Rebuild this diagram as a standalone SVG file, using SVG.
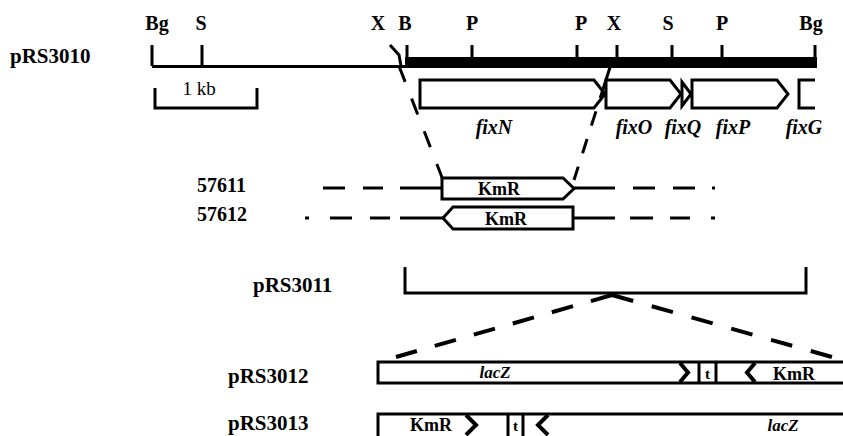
<svg xmlns="http://www.w3.org/2000/svg" width="843" height="436" viewBox="0 0 843 436">
<style>
.lbl{font-family:"Liberation Serif","Times New Roman",serif;font-weight:bold;font-size:21px;fill:#000}
.num{font-family:"Liberation Serif","Times New Roman",serif;font-weight:bold;font-size:20px;fill:#000}
.site{font-family:"Liberation Serif","Times New Roman",serif;font-weight:bold;font-size:20px;fill:#000;text-anchor:middle}
.gene{font-family:"Liberation Serif","Times New Roman",serif;font-weight:bold;font-style:italic;font-size:20px;fill:#000;text-anchor:middle}
.in{font-family:"Liberation Serif","Times New Roman",serif;font-weight:bold;font-size:18px;fill:#000;text-anchor:middle}
.inI{font-family:"Liberation Serif","Times New Roman",serif;font-weight:bold;font-style:italic;font-size:17px;fill:#000;text-anchor:middle}
.ln{stroke:#000;stroke-width:3;fill:none}
.box{stroke:#000;stroke-width:3;fill:#fff;stroke-linejoin:miter}
.dash{stroke:#000;stroke-width:3;fill:none;stroke-dasharray:17 18}
.dash2{stroke:#000;stroke-width:4;fill:none}
</style>
<rect width="843" height="436" fill="#fff"/>

<g id="pRS3010">
  <text class="lbl" x="10" y="63">pRS3010</text>
  <line class="ln" x1="152" y1="66.5" x2="408" y2="66.5"/>
  <rect x="405" y="57" width="412" height="11" fill="#000"/>
  <path class="ln" d="M152,45V66M202,45V66M407,45V58M472,45V58M577,45V58M617,45V58M672,45V58M722,45V58M815,45V58"/>
  <path class="ln" d="M390,45L399,55L401,66"/>
  <text class="site" x="157" y="30">Bg</text>
  <text class="site" x="201" y="30">S</text>
  <text class="site" x="378" y="30">X</text>
  <text class="site" x="405" y="30">B</text>
  <text class="site" x="472" y="30">P</text>
  <text class="site" x="581" y="30">P</text>
  <text class="site" x="614" y="30">X</text>
  <text class="site" x="668" y="30">S</text>
  <text class="site" x="722" y="30">P</text>
  <text class="site" x="811" y="30">Bg</text>
</g>

<g id="scale">
  <path class="ln" d="M155,88V108H257V88"/>
  <text x="199" y="95" style="font-family:'Liberation Serif',serif;font-size:19px;text-anchor:middle">1 kb</text>
</g>

<g id="fixN">
  <path class="box" d="M420,80H594L605,94L594,108H420Z"/>
  <text class="gene" x="494" y="134">fixN</text>
</g>
<g id="fixO">
  <path class="box" d="M606,80H670L681,94L670,108H606Z"/>
  <text class="gene" x="634" y="134">fixO</text>
</g>
<g id="fixQ">
  <path class="box" d="M682,82L691,94L682,106Z"/>
  <text class="gene" x="683" y="134">fixQ</text>
</g>
<g id="fixP">
  <path class="box" d="M692,80H777L788,94L777,108H692Z"/>
  <text class="gene" x="733" y="134">fixP</text>
</g>
<g id="fixG">
  <path class="ln" d="M815,80H799V108H815"/>
  <text class="gene" x="804" y="134">fixG</text>
</g>

<g id="connectors">
  <path class="dash" d="M399,66L443,180"/>
  <path class="dash" d="M613,58L574,180" style="stroke-dasharray:42 14 15 14 15 14 20"/>
  <path class="dash2" d="M612,295L396,357" style="stroke-dasharray:22 18.6"/>
  <path class="dash2" d="M612,295L832,357" style="stroke-dasharray:22 19.3"/>
</g>

<g id="m57611">
  <text class="num" x="197" y="192">57611</text>
  <path class="ln" d="M323,188H345M363,188H383M400,188H442M574,188H615M633,188H655M673,188H695M712,188H715"/>
  <path class="box" d="M442,178H563L574,188.5L563,199H442Z"/>
  <text class="in" x="499" y="195">KmR</text>
</g>

<g id="m57612">
  <text class="num" x="197" y="221">57612</text>
  <path class="ln" d="M305,218H309M330,218H352M370,218H390M400,218H443M573,218H615M630,218H653M670,218H690M711,218H715"/>
  <path class="box" d="M443,218L453,207H573V229H453Z"/>
  <text class="in" x="506" y="225">KmR</text>
</g>

<g id="pRS3011">
  <text class="lbl" x="253" y="292">pRS3011</text>
  <path class="ln" d="M405,267V293H806V267"/>
</g>

<g id="pRS3012">
  <text class="lbl" x="228" y="383">pRS3012</text>
  <rect class="box" x="378" y="362" width="470" height="21"/>
  <text class="inI" x="495" y="378">lacZ</text>
  <path class="ln" d="M680,363L688,372.5L680,382" style="stroke-width:4"/>
  <path class="ln" d="M699,362V383M716,362V383"/>
  <text class="in" x="707.5" y="379" style="font-size:15px">t</text>
  <path class="ln" d="M755,363L747,372.5L755,382" style="stroke-width:4"/>
  <text class="in" x="794" y="380">KmR</text>
</g>

<g id="pRS3013">
  <text class="lbl" x="228" y="430">pRS3013</text>
  <rect class="box" x="378" y="414" width="470" height="30"/>
  <text class="in" x="431" y="431">KmR</text>
  <path class="ln" d="M466,415L476,425L466,435" style="stroke-width:4"/>
  <path class="ln" d="M508,414V436M523,414V436"/>
  <text class="in" x="515.5" y="431" style="font-size:15px">t</text>
  <path class="ln" d="M548,415L538,425L548,435" style="stroke-width:4"/>
  <text class="inI" x="783" y="431">lacZ</text>
</g>
</svg>
